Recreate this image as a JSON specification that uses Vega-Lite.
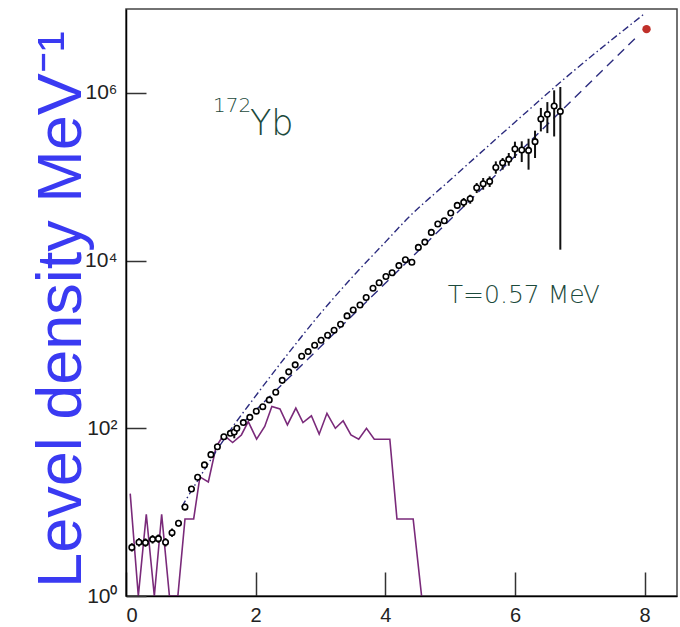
{
  "$schema": "https://vega.github.io/schema/vega-lite/v6.json",
  "width": 551,
  "height": 587,
  "autosize": {"type": "none"},
  "padding": {"left": 126, "top": 9, "right": 3, "bottom": 31},
  "background": "white",
  "config": {
    "view": {"stroke": "#444", "strokeWidth": 1.5},
    "font": "Liberation Sans"
  },
  "datasets": {
    "measured": [
      {"E": 0.09, "rho": 3.80, "lo": 3.39, "hi": 4.26},
      {"E": 0.20, "rho": 4.37, "lo": 3.89, "hi": 4.90},
      {"E": 0.30, "rho": 4.33, "lo": 3.86, "hi": 4.86},
      {"E": 0.41, "rho": 4.74, "lo": 4.22, "hi": 5.32},
      {"E": 0.50, "rho": 4.83, "lo": 4.30, "hi": 5.42},
      {"E": 0.61, "rho": 4.37, "lo": 3.89, "hi": 4.90},
      {"E": 0.71, "rho": 5.69, "lo": 5.07, "hi": 6.38},
      {"E": 0.81, "rho": 7.36, "lo": 6.72, "hi": 8.07},
      {"E": 0.91, "rho": 11.5, "lo": 10.5, "hi": 12.6},
      {"E": 1.01, "rho": 18.9, "lo": 17.6, "hi": 20.3},
      {"E": 1.105, "rho": 26.1, "lo": 25.2, "hi": 27.0},
      {"E": 1.21, "rho": 36.6, "lo": 35.4, "hi": 37.9},
      {"E": 1.31, "rho": 48.5, "lo": 46.9, "hi": 50.2},
      {"E": 1.41, "rho": 60.3, "lo": 58.3, "hi": 62.4},
      {"E": 1.51, "rho": 79.4, "lo": 76.7, "hi": 82.2},
      {"E": 1.61, "rho": 87.1, "lo": 84.2, "hi": 90.1},
      {"E": 1.67, "rho": 90.2, "lo": 76.0, "hi": 96.0},
      {"E": 1.71, "rho": 100, "lo": 96.6, "hi": 103.5},
      {"E": 1.81, "rho": 117, "lo": 113, "hi": 121},
      {"E": 1.91, "rho": 135, "lo": 130, "hi": 140},
      {"E": 2.01, "rho": 160, "lo": 155, "hi": 166},
      {"E": 2.11, "rho": 181, "lo": 175, "hi": 187},
      {"E": 2.21, "rho": 218, "lo": 211, "hi": 226},
      {"E": 2.31, "rho": 269, "lo": 260, "hi": 278},
      {"E": 2.41, "rho": 373, "lo": 360, "hi": 386},
      {"E": 2.51, "rho": 471, "lo": 455, "hi": 487},
      {"E": 2.61, "rho": 571, "lo": 552, "hi": 591},
      {"E": 2.71, "rho": 724, "lo": 700, "hi": 749},
      {"E": 2.81, "rho": 822, "lo": 794, "hi": 851},
      {"E": 2.91, "rho": 977, "lo": 944, "hi": 1011},
      {"E": 3.01, "rho": 1122, "lo": 1084, "hi": 1161},
      {"E": 3.11, "rho": 1288, "lo": 1244, "hi": 1333},
      {"E": 3.21, "rho": 1479, "lo": 1429, "hi": 1531},
      {"E": 3.31, "rho": 1738, "lo": 1679, "hi": 1799},
      {"E": 3.41, "rho": 2188, "lo": 2114, "hi": 2265},
      {"E": 3.505, "rho": 2570, "lo": 2483, "hi": 2660},
      {"E": 3.61, "rho": 2951, "lo": 2851, "hi": 3054},
      {"E": 3.705, "rho": 3631, "lo": 3508, "hi": 3758},
      {"E": 3.81, "rho": 4677, "lo": 4519, "hi": 4841},
      {"E": 3.905, "rho": 5433, "lo": 5249, "hi": 5623},
      {"E": 4.01, "rho": 6457, "lo": 6239, "hi": 6683},
      {"E": 4.105, "rho": 7161, "lo": 6919, "hi": 7412},
      {"E": 4.21, "rho": 8710, "lo": 8415, "hi": 9015},
      {"E": 4.31, "rho": 10233, "lo": 9887, "hi": 10591},
      {"E": 4.41, "rho": 9550, "lo": 9227, "hi": 9884},
      {"E": 4.51, "rho": 14355, "lo": 13556, "hi": 15201},
      {"E": 4.61, "rho": 16596, "lo": 15672, "hi": 17575},
      {"E": 4.71, "rho": 21677, "lo": 20470, "hi": 22956},
      {"E": 4.81, "rho": 27290, "lo": 25770, "hi": 28900},
      {"E": 4.91, "rho": 29854, "lo": 28191, "hi": 31615},
      {"E": 5.01, "rho": 36898, "lo": 34039, "hi": 39998},
      {"E": 5.11, "rho": 45499, "lo": 41973, "hi": 49321},
      {"E": 5.21, "rho": 49431, "lo": 43451, "hi": 55719},
      {"E": 5.31, "rho": 54576, "lo": 47643, "hi": 60954},
      {"E": 5.41, "rho": 73961, "lo": 63826, "hi": 84140},
      {"E": 5.51, "rho": 82414, "lo": 69984, "hi": 96605},
      {"E": 5.61, "rho": 87902, "lo": 75336, "hi": 100925},
      {"E": 5.705, "rho": 128825, "lo": 108643, "hi": 152405},
      {"E": 5.81, "rho": 146893, "lo": 121339, "hi": 167109},
      {"E": 5.905, "rho": 161065, "lo": 135207, "hi": 191867},
      {"E": 6.00, "rho": 213796, "lo": 167109, "hi": 261818},
      {"E": 6.105, "rho": 207970, "lo": 149624, "hi": 264240},
      {"E": 6.21, "rho": 206063, "lo": 121339, "hi": 283792},
      {"E": 6.31, "rho": 261818, "lo": 167109, "hi": 353997},
      {"E": 6.40, "rho": 487528, "lo": 346737, "hi": 660693},
      {"E": 6.50, "rho": 554626, "lo": 331131, "hi": 776247},
      {"E": 6.605, "rho": 698232, "lo": 301995, "hi": 1071519},
      {"E": 6.70, "rho": 601174, "lo": 13490, "hi": 1174898}
    ],
    "discrete": [
      {"E": 0.065, "rho": 16.6},
      {"E": 0.19, "rho": 1},
      {"E": 0.313, "rho": 9.44},
      {"E": 0.437, "rho": 1},
      {"E": 0.55, "rho": 9.44},
      {"E": 0.67, "rho": 1},
      {"E": 0.80, "rho": 1},
      {"E": 0.91, "rho": 8.30},
      {"E": 1.044, "rho": 8.30},
      {"E": 1.14, "rho": 26.3},
      {"E": 1.27, "rho": 22.9},
      {"E": 1.39, "rho": 60.3},
      {"E": 1.505, "rho": 83.2},
      {"E": 1.645, "rho": 67.6},
      {"E": 1.78, "rho": 83.2},
      {"E": 1.886, "rho": 120},
      {"E": 2.015, "rho": 74.1},
      {"E": 2.14, "rho": 105},
      {"E": 2.25, "rho": 182},
      {"E": 2.375, "rho": 170},
      {"E": 2.49, "rho": 110},
      {"E": 2.62, "rho": 174},
      {"E": 2.73, "rho": 117},
      {"E": 2.86, "rho": 141},
      {"E": 2.98, "rho": 85.1},
      {"E": 3.10, "rho": 151},
      {"E": 3.23, "rho": 100},
      {"E": 3.35, "rho": 123},
      {"E": 3.47, "rho": 83.2},
      {"E": 3.59, "rho": 74.1},
      {"E": 3.71, "rho": 100},
      {"E": 3.83, "rho": 74.1},
      {"E": 4.07, "rho": 74.1},
      {"E": 4.18, "rho": 8.28},
      {"E": 4.43, "rho": 8.28},
      {"E": 4.56, "rho": 1}
    ],
    "fermigas": [
      {"E": 0.86, "rho": 11.6},
      {"E": 1.63, "rho": 100},
      {"E": 1.954, "rho": 218},
      {"E": 2.5, "rho": 776},
      {"E": 3.0, "rho": 2344},
      {"E": 3.5, "rho": 6457},
      {"E": 4.0, "rho": 16596},
      {"E": 4.35, "rho": 32137},
      {"E": 5.0, "rho": 91201},
      {"E": 6.0, "rho": 446684},
      {"E": 6.72, "rho": 1380384},
      {"E": 8.0, "rho": 8810489}
    ],
    "consttemp": [
      {"E": 1.8, "rho": 115.8},
      {"E": 7.915, "rho": 4955000}
    ],
    "neutron": [
      {"E": 8.03, "rho": 5750000}
    ],
    "notes": [
      {"E": 1.342, "rho": 597000, "label": "172"},
      {"E": 1.912, "rho": 317000, "label": "Yb"},
      {"E": 4.965, "rho": 3133, "label": "T=0.57 MeV"}
    ]
  },
  "encoding": {
    "x": {
      "field": "E",
      "type": "quantitative",
      "scale": {"domain": [0, 8.5], "nice": false, "zero": false},
      "axis": {
        "values": [0, 2, 4, 6, 8],
        "title": null,
        "grid": false,
        "domainColor": "#000",
        "domainWidth": 1.5,
        "tickColor": "#333",
        "tickWidth": 1.5,
        "tickSize": -24,
        "labelPadding": 33,
        "labelFontSize": 20,
        "labelColor": "#222",
        "labelFont": "Liberation Sans",
        "zindex": 1
      }
    },
    "y": {
      "field": "rho",
      "type": "quantitative",
      "title": "Level density MeV⁻¹",
      "scale": {"type": "log", "domain": [1, 10000000], "nice": false},
      "axis": {
        "values": [1, 100, 10000, 1000000],
        "labelExpr": "datum.value == 1 ? '10⁰' : datum.value == 100 ? '10²' : datum.value == 10000 ? '10⁴' : '10⁶'",
        "titleColor": "#3a3af2",
        "titleFont": "Liberation Sans",
        "titleFontWeight": "normal",
        "titleFontSize": 63,
        "titleX": -65,
        "titleY": 300,
        "titleAngle": -90,
        "titleAlign": "center",
        "titleBaseline": "middle",
        "grid": false,
        "domainColor": "#000",
        "domainWidth": 1.5,
        "tickColor": "#333",
        "tickWidth": 1.5,
        "tickSize": -20,
        "labelPadding": 29,
        "labelFontSize": 21,
        "labelColor": "#222",
        "labelFont": "Liberation Sans",
        "zindex": 1
      }
    }
  },
  "layer": [
    {
      "data": {"name": "discrete"},
      "mark": {"type": "line", "color": "#7a2a7a", "strokeWidth": 1.6, "clip": true}
    },
    {
      "data": {"name": "fermigas"},
      "mark": {"type": "line", "color": "#2b2b7e", "strokeWidth": 1.4, "strokeDash": [7, 3, 1.5, 3], "interpolate": "monotone", "clip": true}
    },
    {
      "data": {"name": "consttemp"},
      "mark": {"type": "line", "color": "#2b2b7e", "strokeWidth": 1.4, "strokeDash": [9, 6], "clip": true}
    },
    {
      "data": {"name": "measured"},
      "mark": {"type": "rule", "color": "#111", "strokeWidth": 2, "clip": true},
      "encoding": {
        "y": {"field": "lo", "type": "quantitative", "title": "Level density MeV⁻¹"},
        "y2": {"field": "hi"}
      }
    },
    {
      "data": {"name": "measured"},
      "mark": {"type": "point", "shape": "circle", "filled": true, "fill": "white", "stroke": "#000", "strokeWidth": 1.6, "size": 30, "opacity": 1}
    },
    {
      "data": {"name": "neutron"},
      "mark": {"type": "point", "shape": "circle", "filled": true, "color": "#c0302a", "size": 70, "opacity": 1}
    },
    {
      "data": {"name": "notes"},
      "transform": [{"filter": "datum.label == '172'"}],
      "mark": {"type": "text", "align": "left", "baseline": "alphabetic", "fontSize": 20, "fontWeight": 200, "color": "#1c4a3c", "font": "DejaVu Sans"},
      "encoding": {"text": {"field": "label"}}
    },
    {
      "data": {"name": "notes"},
      "transform": [{"filter": "datum.label == 'Yb'"}],
      "mark": {"type": "text", "align": "left", "baseline": "alphabetic", "fontSize": 35, "fontWeight": 200, "color": "#1c4a3c", "font": "DejaVu Sans"},
      "encoding": {"text": {"field": "label"}}
    },
    {
      "data": {"name": "notes"},
      "transform": [{"filter": "datum.label == 'T=0.57 MeV'"}],
      "mark": {"type": "text", "align": "left", "baseline": "alphabetic", "fontSize": 25, "fontWeight": 200, "color": "#1c4a3c", "font": "DejaVu Sans"},
      "encoding": {"text": {"field": "label"}}
    }
  ]
}
